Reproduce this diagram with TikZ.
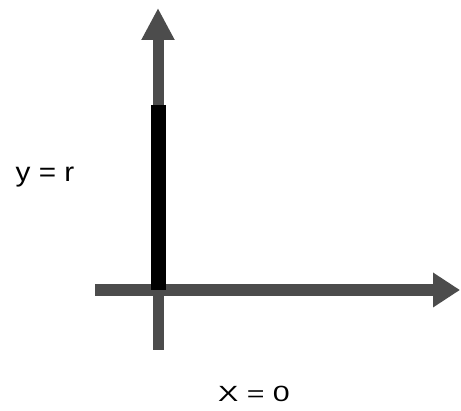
\documentclass[tikz,border=0pt]{standalone}
\usepackage{fontspec}
\usepackage{graphicx}
\setmainfont{Liberation Sans}
\usetikzlibrary{arrows.meta}
\definecolor{axisgray}{gray}{0.3}
\tikzset{
  axis/.style={draw=axisgray, line width=11pt},
  segment/.style={draw=black, line width=15pt},
  lbl/.style={inner sep=0pt, anchor=base}
}
\begin{document}
\begin{tikzpicture}[x=1pt,y=-1pt]
\useasboundingbox (0,0) rectangle (461,411);
\coordinate (ybot) at (158,350);
\coordinate (ytop) at (158,8);
\coordinate (xleft) at (95,290);
\coordinate (xright) at (460,290);
\coordinate (sTop) at (158,105);
\coordinate (sBot) at (158,290);
\draw[axis, -{Triangle[length=32pt,width=31pt]}] (ybot) -- (ytop);
\draw[axis, line width=12pt, -{Triangle[length=27pt,width=33pt]}] (xleft) -- (xright);
\draw[segment] (sTop) -- (sBot);
\node[lbl, font=\fontsize{27}{32}\selectfont] (ylab) at (45,182) {\scalebox{1.1}[1]{y = r}};
\node[lbl, font=\fontsize{22}{26}\selectfont] (xlab) at (254,402) {\scalebox{1.38}[1]{X = 0}};
\end{tikzpicture}
\end{document}
